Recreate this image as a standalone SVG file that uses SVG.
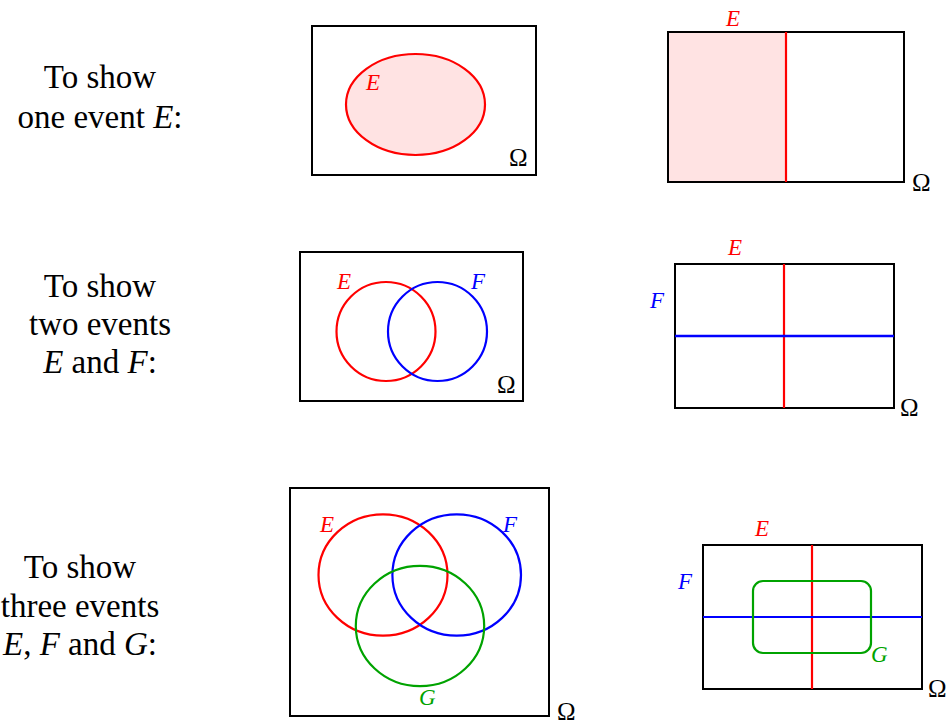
<svg xmlns="http://www.w3.org/2000/svg" width="948" height="723" viewBox="0 0 948 723">
<style>
.cap{font-family:"Liberation Serif","Times New Roman",serif;font-size:33px;fill:#000;text-anchor:middle}
.it{font-style:italic}
.lab{font-family:"Liberation Serif","Times New Roman",serif;font-size:23px;font-style:italic}
.om{font-family:"Liberation Serif","Times New Roman",serif;font-size:25px;fill:#000}
.box{fill:none;stroke:#000;stroke-width:2}
.red{stroke:#ff0000;stroke-width:2.2;fill:none}
.blue{stroke:#0000ff;stroke-width:2.2;fill:none}
.green{stroke:#00a300;stroke-width:2.2;fill:none}
.tr{fill:#ff0000}.tb{fill:#0000ff}.tg{fill:#00a300}
.pink{fill:#ffe3e3}
</style>
<rect width="948" height="723" fill="#fff"/>

<g id="caption1">
<text class="cap" x="100" y="88">To show</text>
<text class="cap" x="100" y="128">one event <tspan class="it">E</tspan>:</text>
</g>
<g id="caption2">
<text class="cap" x="100" y="297">To show</text>
<text class="cap" x="100" y="335">two events</text>
<text class="cap" x="100" y="373"><tspan class="it">E</tspan> and <tspan class="it">F</tspan>:</text>
</g>
<g id="caption3">
<text class="cap" x="80" y="578">To show</text>
<text class="cap" x="80" y="617">three events</text>
<text class="cap" x="80" y="655"><tspan class="it">E</tspan>, <tspan class="it">F</tspan> and <tspan class="it">G</tspan>:</text>
</g>

<g id="venn1">
<rect class="box" x="312" y="26" width="224" height="149"/>
<ellipse cx="415.5" cy="104.5" rx="69.5" ry="50.5" class="red" style="fill:#ffe3e3"/>
<text class="lab tr" x="366" y="90">E</text>
<text class="om" x="509" y="166">Ω</text>
</g>

<g id="table1">
<rect class="pink" x="668" y="32" width="118" height="150"/>
<rect class="box" x="668" y="32" width="236" height="150"/>
<line class="red" x1="786" y1="32" x2="786" y2="182"/>
<text class="lab tr" x="726" y="26">E</text>
<text class="om" x="912" y="191">Ω</text>
</g>

<g id="venn2">
<rect class="box" x="300" y="252" width="223" height="149"/>
<circle class="red" cx="386" cy="331.5" r="49.5"/>
<circle class="blue" cx="437.5" cy="331.5" r="49.5"/>
<text class="lab tr" x="337" y="289">E</text>
<text class="lab tb" x="471" y="289">F</text>
<text class="om" x="497" y="393">Ω</text>
</g>

<g id="table2">
<rect class="box" x="675" y="264" width="219" height="144"/>
<line class="red" x1="784" y1="264" x2="784" y2="408"/>
<line class="blue" x1="675" y1="336" x2="894" y2="336" style="stroke-width:2.6"/>
<text class="lab tr" x="728" y="255">E</text>
<text class="lab tb" x="650" y="308">F</text>
<text class="om" x="900" y="416">Ω</text>
</g>

<g id="venn3">
<rect class="box" x="290" y="488" width="259" height="228"/>
<ellipse class="red" cx="383" cy="575" rx="64.5" ry="60.7"/>
<ellipse class="blue" cx="456.7" cy="575" rx="64.3" ry="60.7"/>
<ellipse class="green" cx="420" cy="626" rx="64.2" ry="60.2"/>
<text class="lab tr" x="320" y="532">E</text>
<text class="lab tb" x="503" y="532">F</text>
<text class="lab tg" x="419" y="705">G</text>
<text class="om" x="557" y="720">Ω</text>
</g>

<g id="table3">
<rect class="box" x="703" y="545" width="219" height="144"/>
<line class="red" x1="812" y1="545" x2="812" y2="689"/>
<line class="blue" x1="703" y1="617" x2="922" y2="617"/>
<rect class="green" x="753" y="581" width="118" height="72" rx="10" ry="10"/>
<text class="lab tr" x="755" y="536">E</text>
<text class="lab tb" x="678" y="589">F</text>
<text class="lab tg" x="871" y="662">G</text>
<text class="om" x="928" y="697">Ω</text>
</g>
</svg>
